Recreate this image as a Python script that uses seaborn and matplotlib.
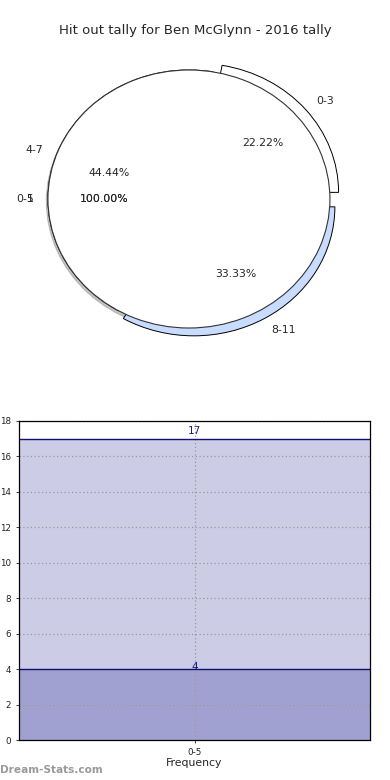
import matplotlib
matplotlib.use("Agg")
import matplotlib.pyplot as plt
import seaborn as sns
import pandas as pd

sns.set_style("white")
plt.rcParams['font.family'] = ['DejaVu Sans']

title = "Hit out tally for Ben McGlynn - 2016 tally"
pie_labels = ["0-3", "4-7", "8-11"]
pie_values = [2, 4, 3]
pie_colors = ["#ffffff", "#ffffff", "#c8dcff"]
pie2_labels = ["0-5"]
pie2_values = [1]
pie3_labels = ["1"]
pie3_values = [1]

bar_cats = ["0-5"]
bar_high = [17]
bar_low = [4]
bar_ylabel = "Hit out Tally"
bar_xlabel = "Frequency"
watermark = "Dream-Stats.com"

fig = plt.figure(figsize=(3.9, 7.8), dpi=100)

# ---- pie ----
pax = fig.add_axes([0, 1 - 360 / 780, 1, 310 / 780])
pax.pie(pie_values, labels=pie_labels, colors=pie_colors, autopct="%.2f%%",
        explode=[0.08, 0.0, 0.07], startangle=0, pctdistance=0.6,
        labeldistance=1.1,
        wedgeprops=dict(edgecolor="black", linewidth=0.7),
        textprops=dict(fontsize=7.8))
pax.pie(pie2_values, labels=pie2_labels, colors=["#ffffff"], autopct="%.2f%%",
        startangle=0, pctdistance=0.6, labeldistance=1.1,
        shadow=dict(ox=-0.008, oy=-0.014, shade=0.45),
        wedgeprops=dict(edgecolor="#333333", linewidth=0.8),
        textprops=dict(fontsize=7.8))
pax.pie(pie3_values, labels=pie3_labels, colors=["none"], autopct="%.2f%%",
        startangle=0, pctdistance=0.6, labeldistance=1.1,
        wedgeprops=dict(edgecolor="none", linewidth=0),
        textprops=dict(fontsize=7.8))
pax.set_aspect("auto")
pax.set_xlim(-1.34, 1.426)
pax.set_ylim(-1.248, 1.155)
pax.axis("off")
fig.text(0.5, 1 - 30.5 / 780, title, ha="center", va="center", fontsize=9.5)

# ---- bars ----
bax = fig.add_axes([19 / 390, 1 - 740 / 780, 351 / 390, 319 / 780])
df_hi = pd.DataFrame({"cat": bar_cats, "val": bar_high})
df_lo = pd.DataFrame({"cat": bar_cats, "val": bar_low})
sns.barplot(data=df_hi, x="cat", y="val", color="#ccccE6", saturation=1,
            width=1.0, ax=bax, edgecolor="none")
sns.barplot(data=df_lo, x="cat", y="val", color="#a1a1d1", saturation=1,
            width=1.0, ax=bax, edgecolor="none")
bax.set_xlim(-0.5, 0.5)
bax.set_ylim(0, 18)
bax.set_yticks(range(0, 19, 2))
for v in bar_high + bar_low:
    bax.axhline(v, color="#101070", linewidth=1.0, zorder=3)
bax.text(0, bar_high[0] + 0.15, str(bar_high[0]), ha="center", va="bottom",
         color="#1a1a80", fontsize=7.5, zorder=5)
bax.text(0, bar_low[0] + 0.1, str(bar_low[0]), ha="center", va="center",
         color="#1a1a80", fontsize=7.5, zorder=5)
bax.set_axisbelow(False)
bax.grid(True, color="#9a9a9a", linestyle=(0, (1, 2)), linewidth=0.9, zorder=4)
bax.tick_params(axis="both", labelsize=6.3, length=2, width=0.6, colors="#222222",
                direction="out", left=True, bottom=True)
for s in bax.spines.values():
    s.set_color("black")
    s.set_linewidth(0.9)
    s.set_zorder(6)
bax.set_xlabel(bar_xlabel, fontsize=7.8, labelpad=1)
bax.set_ylabel(bar_ylabel, fontsize=7.5, labelpad=4)

fig.text(0.0, 1 - 770 / 780, watermark, ha="left", va="center", fontsize=7.6,
         color="#9a9a9a", fontweight="bold")

fig.savefig("out.png", dpi=100)
